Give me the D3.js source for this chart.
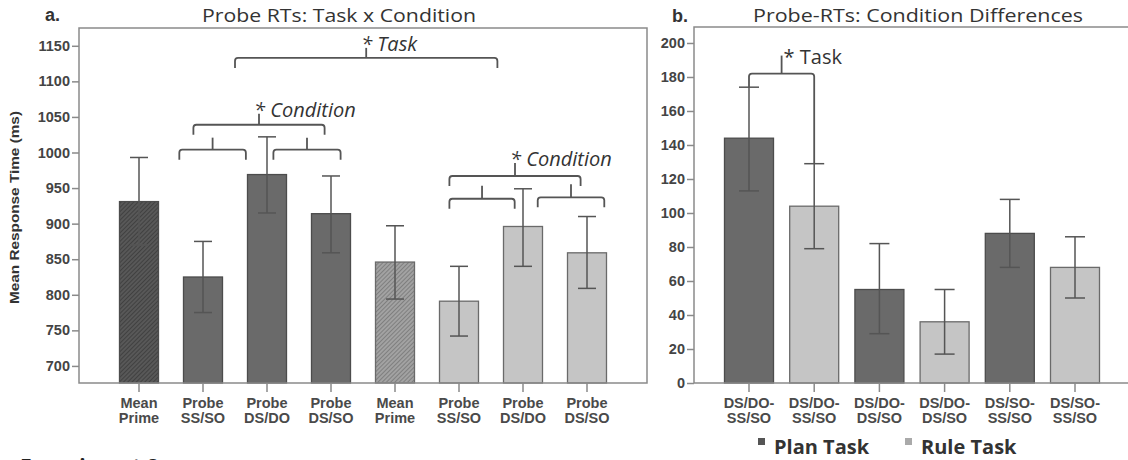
<!DOCTYPE html>
<html>
<head>
<meta charset="utf-8">
<script src="https://cdn.jsdelivr.net/npm/d3@7"></script>
<style>
  body { margin: 0; background: #fff; }
  svg { display: block; }
</style>
</head>
<body>
<svg id="chart" width="1128" height="460"></svg>
<script>
// panel a: probe RTs by task x condition
const labelsA = [["Mean", "Prime"], ["Probe", "SS/SO"], ["Probe", "DS/DO"], ["Probe", "DS/SO"],
                 ["Mean", "Prime"], ["Probe", "SS/SO"], ["Probe", "DS/DO"], ["Probe", "DS/SO"]];
const taskA = ["Plan", "Plan", "Plan", "Plan", "Rule", "Rule", "Rule", "Rule"];
const primeA = [true, false, false, false, true, false, false, false];
const meanA = [931, 825, 969, 914, 846, 791, 896, 859];
const lowA  = [870, 775, 915, 859, 794, 742, 840, 809];
const highA = [993, 875, 1022, 967, 897, 840, 949, 910];
const ticksA = [700, 750, 800, 850, 900, 950, 1000, 1050, 1100, 1150];

// panel b: condition differences
const labelsB = [["DS/DO-", "SS/SO"], ["DS/DO-", "SS/SO"], ["DS/DO-", "DS/SO"],
                 ["DS/DO-", "DS/SO"], ["DS/SO-", "SS/SO"], ["DS/SO-", "SS/SO"]];
const taskB = ["Plan", "Rule", "Plan", "Rule", "Plan", "Rule"];
const meanB = [144, 104, 55, 36, 88, 68];
const lowB  = [113, 79, 29, 17, 68, 50];
const highB = [174, 129, 82, 55, 108, 86];
const ticksB = [0, 20, 40, 60, 80, 100, 120, 140, 160, 180, 200];

// significance brackets (category positions, value level)
const bracketsA = [
  { from: 1.5,  to: 5.6,  level: 1133, tip: 10, label: "* Task" },
  { from: 0.85, to: 2.9,  level: 1039, tip: 11, label: "* Condition" },
  { from: 0.63, to: 1.67, level: 1004, tip: 12, label: "" },
  { from: 2.1,  to: 3.15, level: 1004, tip: 12, label: "" },
  { from: 4.85, to: 6.9,  level: 967,  tip: 13, label: "* Condition" },
  { from: 4.85, to: 5.87, level: 935,  tip: 13, label: "" },
  { from: 6.23, to: 7.27, level: 937,  tip: 13, label: "" }
];
const bracketsB = [{ from: 0, to: 1, level: 182, label: "* Task" }];

const fill = { Plan: "#6a6a6a", Rule: "#c5c5c5" };
const edge = { Plan: "#4c4c4c", Rule: "#6a6a6a" };
const gridCol = "#8a8a8a";
const textCol = "#444";

const svg = d3.select("#chart");
const defs = svg.append("defs");
[["hatchPlan", "#585858", "#363636"], ["hatchRule", "#a2a2a2", "#707070"]].forEach(([id, bg, fg]) => {
  const p = defs.append("pattern").attr("id", id).attr("patternUnits", "userSpaceOnUse")
    .attr("width", 3).attr("height", 3).attr("patternTransform", "rotate(45)");
  p.append("rect").attr("width", 3).attr("height", 3).attr("fill", bg);
  p.append("line").attr("x1", 0).attr("y1", 0).attr("x2", 0).attr("y2", 3)
    .attr("stroke", fg).attr("stroke-width", 1.4);
});

function drawAxisY(g, y, ticks, x0) {
  g.append("g")
    .attr("transform", `translate(${x0},0)`)
    .call(d3.axisLeft(y).tickValues(ticks).tickFormat(d3.format("d")).tickSize(7).tickPadding(2))
    .call(a => a.select(".domain").remove())
    .call(a => a.selectAll("line").attr("stroke", gridCol).attr("stroke-width", 1.5))
    .call(a => a.selectAll("text").attr("fill", textCol)
      .style("font", "bold 14.5px 'Liberation Sans', Arial, sans-serif"));
}

function drawXLabels(g, x, labels, yBase) {
  labels.forEach((lines, i) => {
    g.append("line").attr("x1", x(i)).attr("x2", x(i))
      .attr("y1", yBase).attr("y2", yBase + 9)
      .attr("stroke", gridCol).attr("stroke-width", 1.5);
    const t = g.append("text").attr("text-anchor", "middle").attr("fill", "#4a4a4a")
      .style("font", "bold 14.5px 'Liberation Sans', Arial, sans-serif");
    lines.forEach((s, k) => t.append("tspan").attr("x", x(i)).attr("y", yBase + 25 + k * 15).text(s));
  });
}

function drawBars(g, x, y, w, means, lows, highs, tasks, hatched, cap) {
  means.forEach((m, i) => {
    const pat = hatched && hatched[i] ? `url(#hatch${tasks[i]})` : fill[tasks[i]];
    g.append("rect")
      .attr("x", x(i) - w / 2).attr("y", y(m))
      .attr("width", w).attr("height", y.range()[0] - y(m))
      .attr("fill", pat).attr("stroke", edge[tasks[i]]).attr("stroke-width", 1.3);
  });
  means.forEach((m, i) => {
    const eg = g.append("g").attr("stroke", "#555").attr("stroke-width", 1.5);
    eg.append("line").attr("x1", x(i)).attr("x2", x(i)).attr("y1", y(highs[i])).attr("y2", y(lows[i]));
    [highs[i], lows[i]].forEach(v => eg.append("line")
      .attr("x1", x(i) - cap / 2).attr("x2", x(i) + cap / 2).attr("y1", y(v)).attr("y2", y(v)));
  });
}

function bracePath(x1, x2, yy, legL, legR) {
  const r = 3;
  return `M${x1},${yy + legL} L${x1},${yy + r} Q${x1},${yy} ${x1 + r},${yy} ` +
         `L${x2 - r},${yy} Q${x2},${yy} ${x2},${yy + r} L${x2},${yy + legR}`;
}

// ---------- panel a ----------
const ax0 = 79, ax1 = 647, plotTop = 28, plotBottom = 383;
const yA = d3.scaleLinear().domain([676, 1175]).range([plotBottom, plotTop]);
const xA = d3.scalePoint().domain(d3.range(labelsA.length)).range([ax0 + 60, ax1 - 60]);
const stepA = xA.step();
const posA = f => xA(0) + f * stepA;
const gA = svg.append("g");

drawBars(gA, xA, yA, 39, meanA, lowA, highA, taskA, primeA, 18);
gA.append("rect").attr("x", ax0).attr("y", plotTop).attr("width", ax1 - ax0).attr("height", plotBottom - plotTop)
  .attr("fill", "none").attr("stroke", gridCol).attr("stroke-width", 1.5);
drawAxisY(gA, yA, ticksA, ax0);
drawXLabels(gA, xA, labelsA, plotBottom);

bracketsA.forEach(b => {
  const x1 = posA(b.from), x2 = posA(b.to), xc = (x1 + x2) / 2, yy = yA(b.level);
  const bg = gA.append("g").attr("fill", "none").attr("stroke", "#555").attr("stroke-width", 1.8);
  bg.append("path").attr("d", bracePath(x1, x2, yy, 10, 10));
  bg.append("line").attr("x1", xc).attr("x2", xc).attr("y1", yy).attr("y2", yy - b.tip);
  if (b.label) {
    gA.append("text").attr("x", xc - 5).attr("y", yy - b.tip + 3)
      .attr("fill", "#333").style("font", "italic 20px 'Open Sans', sans-serif")
      .text(b.label);
  }
});

gA.append("text").attr("x", 45).attr("y", 21).attr("fill", "#333")
  .style("font", "bold 18px 'Liberation Sans', Arial, sans-serif").text("a.");
gA.append("text").attr("x", 202).attr("y", 22).attr("fill", "#333")
  .attr("textLength", 274).attr("lengthAdjust", "spacingAndGlyphs")
  .style("font", "19px 'Open Sans', sans-serif").text("Probe RTs: Task x Condition");
gA.append("text").attr("transform", `translate(19,${(plotTop + plotBottom) / 2 + 2}) rotate(-90)`)
  .attr("text-anchor", "middle").attr("fill", "#333")
  .attr("textLength", 193).attr("lengthAdjust", "spacingAndGlyphs")
  .style("font", "bold 13px 'Liberation Sans', Arial, sans-serif").text("Mean Response Time (ms)");

// ---------- panel b ----------
const bx0 = 694, bx1 = 1128;
const yB = d3.scaleLinear().domain([0, 209.4]).range([plotBottom, plotTop - 1]);
const xB = d3.scalePoint().domain(d3.range(labelsB.length)).range([bx0 + 55, bx0 + 55 + 5 * 65.2]);
const gB = svg.append("g");

drawBars(gB, xB, yB, 49, meanB, lowB, highB, taskB, null, 20);
gB.append("path").attr("d", `M${bx1},${plotTop - 1} L${bx0},${plotTop - 1} L${bx0},${plotBottom} L${bx1},${plotBottom}`)
  .attr("fill", "none").attr("stroke", gridCol).attr("stroke-width", 1.5);
drawAxisY(gB, yB, ticksB, bx0);
drawXLabels(gB, xB, labelsB, plotBottom);

bracketsB.forEach(b => {
  const x1 = xB(b.from), x2 = xB(b.to), xc = (x1 + x2) / 2, yy = yB(b.level);
  const bg = gB.append("g").attr("fill", "none").attr("stroke", "#555").attr("stroke-width", 1.8);
  bg.append("path").attr("d", bracePath(x1, x2, yy, yB(highB[b.from]) - yy, yB(highB[b.to]) - yy));
  bg.append("line").attr("x1", xc).attr("x2", xc).attr("y1", yy).attr("y2", yy - 18);
  gB.append("text").attr("x", xc + 2).attr("y", yy - 10)
    .attr("fill", "#333").style("font", "20px 'Open Sans', sans-serif").text(b.label);
});

gB.append("text").attr("x", 672).attr("y", 22).attr("fill", "#333")
  .style("font", "bold 18px 'Liberation Sans', Arial, sans-serif").text("b.");
gB.append("text").attr("x", 753).attr("y", 22).attr("fill", "#333")
  .attr("textLength", 330).attr("lengthAdjust", "spacingAndGlyphs")
  .style("font", "19px 'Open Sans', sans-serif").text("Probe-RTs: Condition Differences");

// legend
const legend = [["Plan", "Plan Task", 758], ["Rule", "Rule Task", 905]];
legend.forEach(([k, name, lx]) => {
  gB.append("rect").attr("x", lx).attr("y", 438).attr("width", 7).attr("height", 7)
    .attr("fill", k === "Plan" ? "#555" : "#aaa");
  gB.append("text").attr("x", lx + 16).attr("y", 454).attr("fill", "#333")
    .style("font", "bold 20px 'Open Sans', sans-serif").text(name);
});

// caption below panel a, cut off by the bottom edge as in the source figure
svg.append("text").attr("x", 20).attr("y", 474).attr("fill", "#222")
  .style("font", "bold 21px 'Open Sans', sans-serif").text("Experiment 2");
</script>
</body>
</html>
